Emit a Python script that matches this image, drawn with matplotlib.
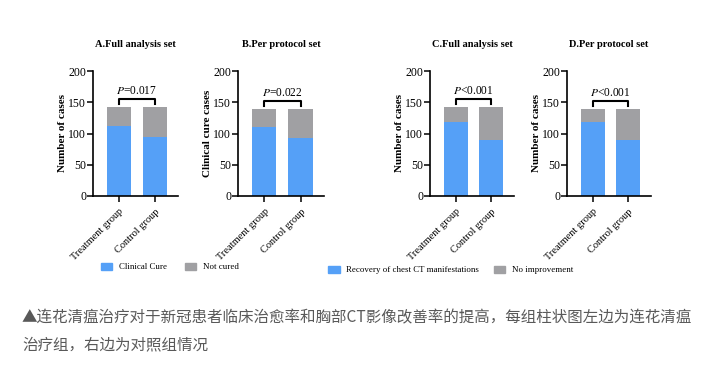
import numpy as np
import matplotlib
matplotlib.use('Agg')
import matplotlib.pyplot as plt
from matplotlib.patches import Patch

plt.rcParams['font.family'] = ['Liberation Serif', 'DejaVu Serif']
plt.rcParams['mathtext.fontset'] = 'stix'

# data
groups = ['Treatment group', 'Control group']
titles = ['A.Full analysis set', 'B.Per protocol set', 'C.Full analysis set', 'D.Per protocol set']
ylabels = ['Number of cases', 'Clinical cure cases', 'Number of cases', 'Number of cases']
pvals = ['$P$=0.017', '$P$=0.022', '$P$<0.001', '$P$<0.001']
totals = [[142, 142], [139, 139], [142, 142], [139, 139]]
improved = [[112, 94], [110, 93], [119, 90], [118, 90]]
legend_left = ['Clinical Cure', 'Not cured']
legend_right = ['Recovery of chest CT manifestations', 'No improvement']
caption1 = '▲连花清瘟治疗对于新冠患者临床治愈率和胸部CT影像改善率的提高，每组柱状图左边为连花清瘟'
caption2 = '治疗组，右边为对照组情况'

blue = '#55a0f7'
gray = '#a0a0a3'

W, H = 712, 371
fig = plt.figure(figsize=(W/100, H/100), dpi=100)

# axes boxes in pixels (left, right)
boxes = [(93, 178), (238, 324), (430, 514), (567, 651)]
top, bottom = 71, 196

x = np.arange(len(groups))
for i, (l, r) in enumerate(boxes):
	ax = fig.add_axes([l/W, 1 - bottom/H, (r-l)/W, (bottom-top)/H])
	imp = np.array(improved[i])
	rest = np.array(totals[i]) - imp
	ax.bar(x, imp, width=0.67, color=blue)
	ax.bar(x, rest, bottom=imp, width=0.67, color=gray)
	ax.set_xlim(-0.72, 1.64)
	ax.set_ylim(0, 200)
	ax.set_yticks([0, 50, 100, 150, 200])
	ax.set_xticks(x)
	ax.set_xticklabels(groups, rotation=45, ha='right', rotation_mode='anchor', fontsize=7.5)
	ax.tick_params(axis='y', labelsize=8.5, length=4, width=1.1, pad=1)
	ax.tick_params(axis='x', length=4, width=1.1, pad=4)
	for s in ['top', 'right']:
		ax.spines[s].set_visible(False)
	for s in ['left', 'bottom']:
		ax.spines[s].set_linewidth(1.2)
	ax.set_ylabel(ylabels[i], fontsize=8, fontweight='bold', labelpad=0.5)
	ax.set_title(titles[i], fontsize=7.5, fontweight='bold', pad=17)
	# significance bracket
	ytop = max(totals[i]) + 13
	ax.plot([0, 0, 1, 1], [ytop - 8, ytop, ytop, ytop - 8], color='black', lw=1.5, clip_on=False)
	ax.text(0.5, ytop + 4, pvals[i], ha='center', va='bottom', fontsize=8.3)

fig.legend(handles=[Patch(color=blue), Patch(color=gray)], labels=legend_left,
	loc='center left', bbox_to_anchor=(101/W, 1 - 267/H), frameon=False, ncol=2,
	fontsize=6.4, handlelength=1.25, handleheight=0.8, handletextpad=0.8,
	columnspacing=2.0, borderpad=0, borderaxespad=0)
fig.legend(handles=[Patch(color=blue), Patch(color=gray)], labels=legend_right,
	loc='center left', bbox_to_anchor=(328/W, 1 - 270/H), frameon=False, ncol=2,
	fontsize=6.4, handlelength=1.3, handleheight=0.8, handletextpad=0.7,
	columnspacing=1.7, borderpad=0, borderaxespad=0)

cap_font = ['Noto Sans CJK SC', 'DejaVu Sans']
fig.text(22/W, 1 - 318/H, caption1, family=cap_font, fontsize=11.2, color='#595959', va='center', ha='left')
fig.text(22/W, 1 - 345/H, caption2, family=cap_font, fontsize=11.2, color='#595959', va='center', ha='left')

fig.savefig('out.png', dpi=100)
